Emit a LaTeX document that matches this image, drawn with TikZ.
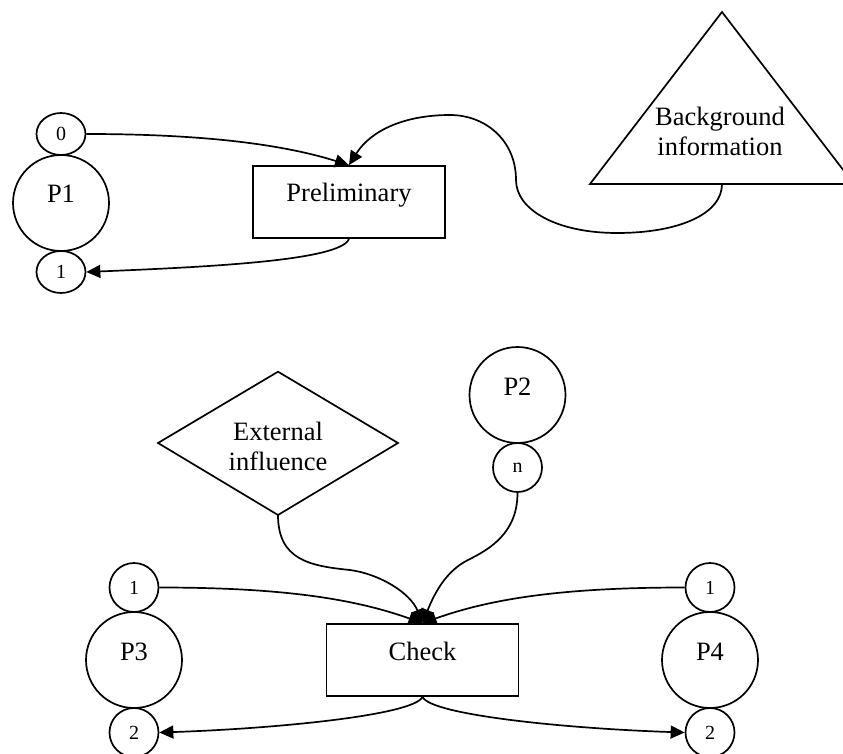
\documentclass[tikz,border=0pt]{standalone}
\usepackage{fontspec}
\setmainfont{Liberation Serif}
\usetikzlibrary{arrows.meta,shapes.geometric}
\begin{document}
\begin{tikzpicture}[x=1pt,y=-1pt,
  line width=1.7pt,
  every node/.style={inner sep=0pt},
  bigtxt/.style={font=\fontsize{26.5}{30}\selectfont},
  smalltxt/.style={font=\fontsize{20}{22}\selectfont},
  place/.style={draw,circle,minimum size=96pt,bigtxt,text height=0pt,text depth=0pt},
  tokcirc/.style={draw,circle,minimum size=49pt,smalltxt},
  tokoval/.style={draw,ellipse,minimum width=49pt,minimum height=42pt,smalltxt},
  trans/.style={draw,rectangle,minimum width=192pt,minimum height=72pt,bigtxt,text height=0pt,text depth=0pt},
  shapetxt/.style={bigtxt,align=center},
  arc/.style={-{Triangle[length=14pt,width=13pt]}}
]
\useasboundingbox (0,0) rectangle (843,754);

% upper net
\node[place]   (p1)  at (61,203)  {P1};
\node[tokoval] (p1a) at (61,134)  {0};
\node[tokoval] (p1b) at (61,272)  {1};
\node[trans]   (prelim) at (349,202) {Preliminary};

% background information: triangle drawn around its text
\node[shapetxt] (bg) at (720,131) {Background\\information};
\coordinate (bgl)   at (590,184);
\coordinate (bgtop) at (722,12);
\coordinate (bgr)   at (854,184);
\coordinate (bgbase) at (722,184);
\draw (bgl) -- (bgtop) -- (bgr) -- cycle;

\draw[arc] (p1a.east) .. controls +(110,0) and +(-70,-22) .. (prelim.north);
\draw[arc] (bgbase) .. controls +(0,30) and +(62,0) .. (617,233)
  .. controls +(-60,0) and +(0,30) .. (516,180)
  .. controls +(0,-40) and +(35,0) .. (450,115)
  .. controls +(-45,0) and +(22,-35) .. (prelim.north);
\draw[arc] (prelim.south) .. controls +(-8,22) and +(120,-5) .. (p1b.east);

% lower net
\node[place]   (p2)  at (517.5,395) {P2};
\node[tokcirc] (p2n) at (517.5,467.5) {n};
\node[place]   (p3)  at (134,660) {P3};
\node[tokcirc] (p3a) at (134,587.5) {1};
\node[tokcirc] (p3b) at (134,732.5) {2};
\node[place]   (p4)  at (710,660) {P4};
\node[tokcirc] (p4a) at (710,587.5) {1};
\node[tokcirc] (p4b) at (710,732.5) {2};
\node[trans]   (check) at (422.5,660) {Check};

% external influence: diamond drawn around its text
\node[shapetxt] (ext) at (278,446) {External\\influence};
\coordinate (extt) at (278,371.7);
\coordinate (extr) at (398,443);
\coordinate (extb) at (278,515);
\coordinate (extl) at (158,443);
\draw (extt) -- (extr) -- (extb) -- (extl) -- cycle;

\draw[arc] (p3a.east) .. controls +(120,0) and +(-70,-25) .. (check.north);
\draw[arc] (p4a.west) .. controls +(-120,0) and +(70,-25) .. (check.north);
\draw[arc] (extb) .. controls +(0,45) and +(-40,-4) .. (350,570)
  .. controls +(30,4) and +(-12,-30) .. (check.north);
\draw[arc] (p2n.south) .. controls +(0,40) and +(22,-11) .. (468,560)
  .. controls +(-22,11) and +(12,-30) .. (check.north);
\draw[arc] (check.south) .. controls +(-8,18) and +(120,-4) .. (p3b.east);
\draw[arc] (check.south) .. controls +(8,18) and +(-120,-4) .. (p4b.west);
\end{tikzpicture}
\end{document}
